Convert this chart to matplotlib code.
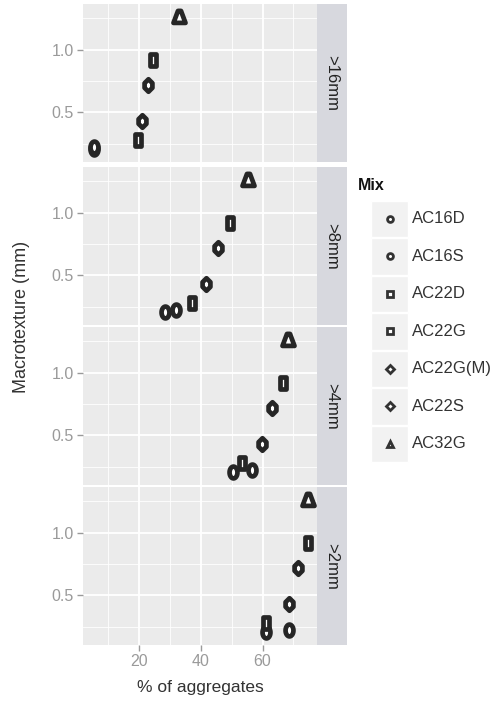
import numpy as np
import matplotlib
matplotlib.use("Agg")
import matplotlib.pyplot as plt
from matplotlib.path import Path
from matplotlib.patches import Rectangle
from matplotlib.ticker import FixedLocator

plt.rcParams['font.family'] = ['Liberation Sans', 'DejaVu Sans']

# mixes and their macrotexture depth (mm)
mixes = ["AC16D", "AC16S", "AC22D", "AC22G", "AC22G(M)", "AC22S", "AC32G"]
macrotexture = [0.21, 0.22, 0.28, 0.92, 0.72, 0.43, 1.26]

# % of aggregates passing each sieve size, per mix
facets = [">16mm", ">8mm", ">4mm", ">2mm"]
pct_16mm = [5.5, 5.6, 19.8, 24.6, 23.0, 21.2, 33.0]
pct_8mm = [28.6, 32.2, 37.3, 49.4, 45.6, 41.8, 55.3]
pct_4mm = [50.4, 56.7, 53.5, 66.5, 63.0, 59.9, 68.2]
pct_2mm = [61.2, 68.7, 61.2, 74.6, 71.6, 68.7, 74.6]
pct = [pct_16mm, pct_8mm, pct_4mm, pct_2mm]

# tall marker outlines
t = np.linspace(0, 2 * np.pi, 40)
ellipse = Path(np.column_stack([np.cos(t), 1.5 * np.sin(t)]), closed=True)
rect = Path([(-1, -1.9), (1, -1.9), (1, 1.9), (-1, 1.9), (-1, -1.9)], closed=True)
diamond = Path([(0, -1.6), (1, -0.6), (1, 0.6), (0, 1.6), (-1, 0.6), (-1, -0.6), (0, -1.6)], closed=True)
tri = Path([(-1, -0.9), (1, -0.9), (0.25, 1.1), (-0.25, 1.1), (-1, -0.9)], closed=True)

shapes = [ellipse, ellipse, rect, rect, diamond, diamond, tri]
sizes = [8.5, 8.5, 8, 8, 9, 9, 9.5]
legend_marks = ["o", "o", "s", "s", "D", "D", "^"]

W, H = 498, 702
fig = plt.figure(figsize=(W / 100, H / 100), dpi=100)

panel_left, panel_right = 83, 317
strip_right = 347
tops = [4, 167, 327, 487]
ph = 158

panel_bg = "#EBEBEB"
strip_bg = "#D7D8DE"
tick_col = "#9A9A9A"

for i, name in enumerate(facets):
    top = tops[i]
    ax = fig.add_axes([panel_left / W, 1 - (top + ph) / H,
                       (panel_right - panel_left) / W, ph / H])
    ax.set_facecolor(panel_bg)
    ax.set_xlim(2.0, 77.6)
    ax.set_ylim(0.103, 1.365)
    ax.yaxis.set_major_locator(FixedLocator([0.5, 1.0]))
    ax.yaxis.set_minor_locator(FixedLocator([0.25, 0.75, 1.25]))
    ax.xaxis.set_major_locator(FixedLocator([20, 40, 60]))
    ax.xaxis.set_minor_locator(FixedLocator([10, 30, 50, 70]))
    ax.grid(which="major", color="white", lw=1.3)
    ax.grid(which="minor", color="white", lw=0.6)
    ax.set_axisbelow(True)
    for s in ax.spines.values():
        s.set_visible(False)
    ax.tick_params(which="minor", length=0)
    ax.tick_params(axis="y", which="major", length=4.5, width=1, color=tick_col,
                   labelcolor=tick_col, labelsize=11.5, pad=2)
    ax.set_yticklabels(["0.5", "1.0"])
    if i == len(facets) - 1:
        ax.tick_params(axis="x", which="major", length=4.5, width=1, color=tick_col,
                       labelcolor=tick_col, labelsize=11.5, pad=2)
        ax.set_xlabel("% of aggregates", fontsize=12.5, color="#333333", labelpad=8)
    else:
        ax.tick_params(axis="x", which="major", length=0, labelbottom=False)

    for k in range(len(mixes)):
        ax.plot(pct[i][k], macrotexture[k], marker=shapes[k], ms=sizes[k],
                mfc="white", mec="#262626", mew=3.4, ls="none", zorder=3)

    sax = fig.add_axes([panel_right / W, 1 - (top + ph) / H,
                        (strip_right - panel_right) / W, ph / H])
    sax.set_facecolor(strip_bg)
    sax.set_xticks([])
    sax.set_yticks([])
    for s in sax.spines.values():
        s.set_visible(False)
    sax.text(0.5, 0.5, name, rotation=-90, ha="center", va="center",
             fontsize=12, color="#222222", transform=sax.transAxes)

fig.text(22 / W, 1 - 317 / H, "Macrotexture (mm)", rotation=90, ha="center",
         va="center", fontsize=13, color="#333333")

# legend
lax = fig.add_axes([0, 0, 1, 1])
lax.set_xlim(0, W)
lax.set_ylim(H, 0)
lax.axis("off")
lax.text(358, 186, "Mix", fontsize=11.5, fontweight="bold", va="center", ha="left",
         color="#111111")
key_top, key_h = 200, 37.5
for k, m in enumerate(mixes):
    y0 = key_top + k * key_h
    lax.add_patch(Rectangle((371, y0 + 0.5), 37, key_h - 1, facecolor="#F2F2F2",
                            edgecolor="white", lw=1))
    lax.plot(389.5, y0 + key_h / 2, marker=legend_marks[k], ms=4.2 if k < 6 else 4.8,
             mfc="white", mec="#333333", mew=2.0, ls="none")
    lax.text(412, y0 + key_h / 2, m, fontsize=12, va="center", ha="left",
             color="#333333")

fig.savefig("out.png", dpi=100)
